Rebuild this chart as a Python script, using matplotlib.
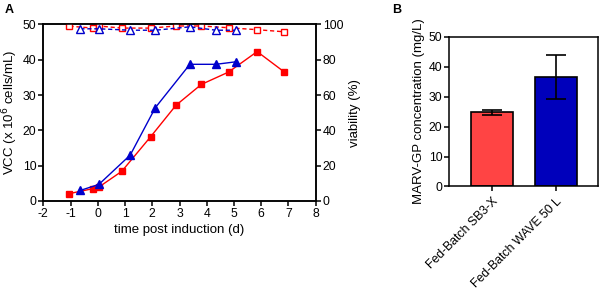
import matplotlib
matplotlib.use("Agg")
import matplotlib.pyplot as plt

plt.rcParams['font.family'] = ['Liberation Sans', 'DejaVu Sans']
plt.rcParams['axes.unicode_minus'] = False

# VCC data
sb3_t = [-1.04, -0.18, 0.03, 0.88, 1.94, 2.87, 3.8, 4.8, 5.85, 6.85]
sb3_vcc = [2.1, 3.5, 3.9, 8.4, 18.2, 27.1, 33.0, 36.5, 42.3, 36.5]
sb3_via = [99.0, 97.9, 99.1, 97.9, 97.9, 99.1, 99.1, 98.1, 97.0, 95.8]

wave_t = [-0.64, 0.04, 1.19, 2.11, 3.38, 4.34, 5.06]
wave_vcc = [3.0, 4.7, 13.0, 26.4, 38.7, 38.7, 39.4]
wave_via = [97.5, 97.5, 96.7, 96.7, 98.6, 96.7, 96.7]

# Bar data
bar_labels = ["Fed-Batch SB3-X", "Fed-Batch WAVE 50 L"]
bar_values = [24.7, 36.4]
bar_err_low = [0.7, 7.3]
bar_err_high = [0.7, 7.4]

RED = "#ff0000"
BLUE = "#0000cc"

fig = plt.figure(figsize=(6, 2.9), dpi=100)

ax = fig.add_axes([0.0722, 0.3069, 0.454, 0.609])
ax2 = ax.twinx()

ax.plot(sb3_t, sb3_vcc, color=RED, marker='s', ms=5, lw=1.0, zorder=3)
ax.plot(wave_t, wave_vcc, color=BLUE, marker='^', ms=6, lw=1.0, zorder=3)
ax2.plot(sb3_t, sb3_via, color=RED, marker='s', ms=5, lw=1.0, ls=(0, (3, 2)),
         mfc='white', mec=RED, mew=1.0)
ax2.plot(wave_t, wave_via, color=BLUE, marker='^', ms=6, lw=1.0, ls=(0, (3, 2)),
         mfc='white', mec=BLUE, mew=1.0)

ax.set_xlim(-2, 8)
ax.set_ylim(0, 50)
ax2.set_ylim(0, 100)
ax.set_xticks(range(-2, 9))
ax.set_yticks(range(0, 51, 10))
ax2.set_yticks(range(0, 101, 20))
for a in (ax, ax2):
    for s in a.spines.values():
        s.set_linewidth(1.1)
    a.tick_params(direction='out', length=3.5, width=1.1, labelsize=8.8, pad=1.5)
ax.set_xlabel("time post induction (d)", fontsize=9.5, labelpad=3)
ax.set_ylabel("VCC (x 10$^{6}$ cells/mL)", fontsize=9.5, labelpad=2)
ax2.set_ylabel("viability (%)", fontsize=9.5, labelpad=4)

# Bar panel
bx = fig.add_axes([0.7488, 0.3569, 0.2473, 0.5166])
pos = [0, 1]
bx.bar(pos, bar_values, width=0.645, color=["#ff4444", "#0000bb"],
       edgecolor='black', linewidth=1.2, zorder=2)
bx.errorbar(pos, bar_values, yerr=[bar_err_low, bar_err_high], fmt='none',
            ecolor='black', elinewidth=1.2, capsize=7.5, capthick=1.2, zorder=3)
bx.set_xlim(-0.667, 1.65)
bx.set_ylim(0, 50)
bx.set_yticks(range(0, 51, 10))
bx.set_xticks(pos)
bx.set_xticklabels(bar_labels, rotation=45, ha='right', rotation_mode='anchor',
                   fontsize=8.8)
for s in bx.spines.values():
    s.set_linewidth(1.1)
bx.tick_params(direction='out', length=3.5, width=1.1, labelsize=8.8, pad=1.5)
bx.tick_params(axis='x', pad=3)
bx.set_ylabel("MARV-GP concentration (mg/L)", fontsize=9.5, labelpad=3)

fig.text(0.008, 0.985, "A", fontsize=9, fontweight='bold', va='top', ha='left')
fig.text(0.653, 0.985, "B", fontsize=9, fontweight='bold', va='top', ha='left')

fig.savefig("out.png", dpi=100)
